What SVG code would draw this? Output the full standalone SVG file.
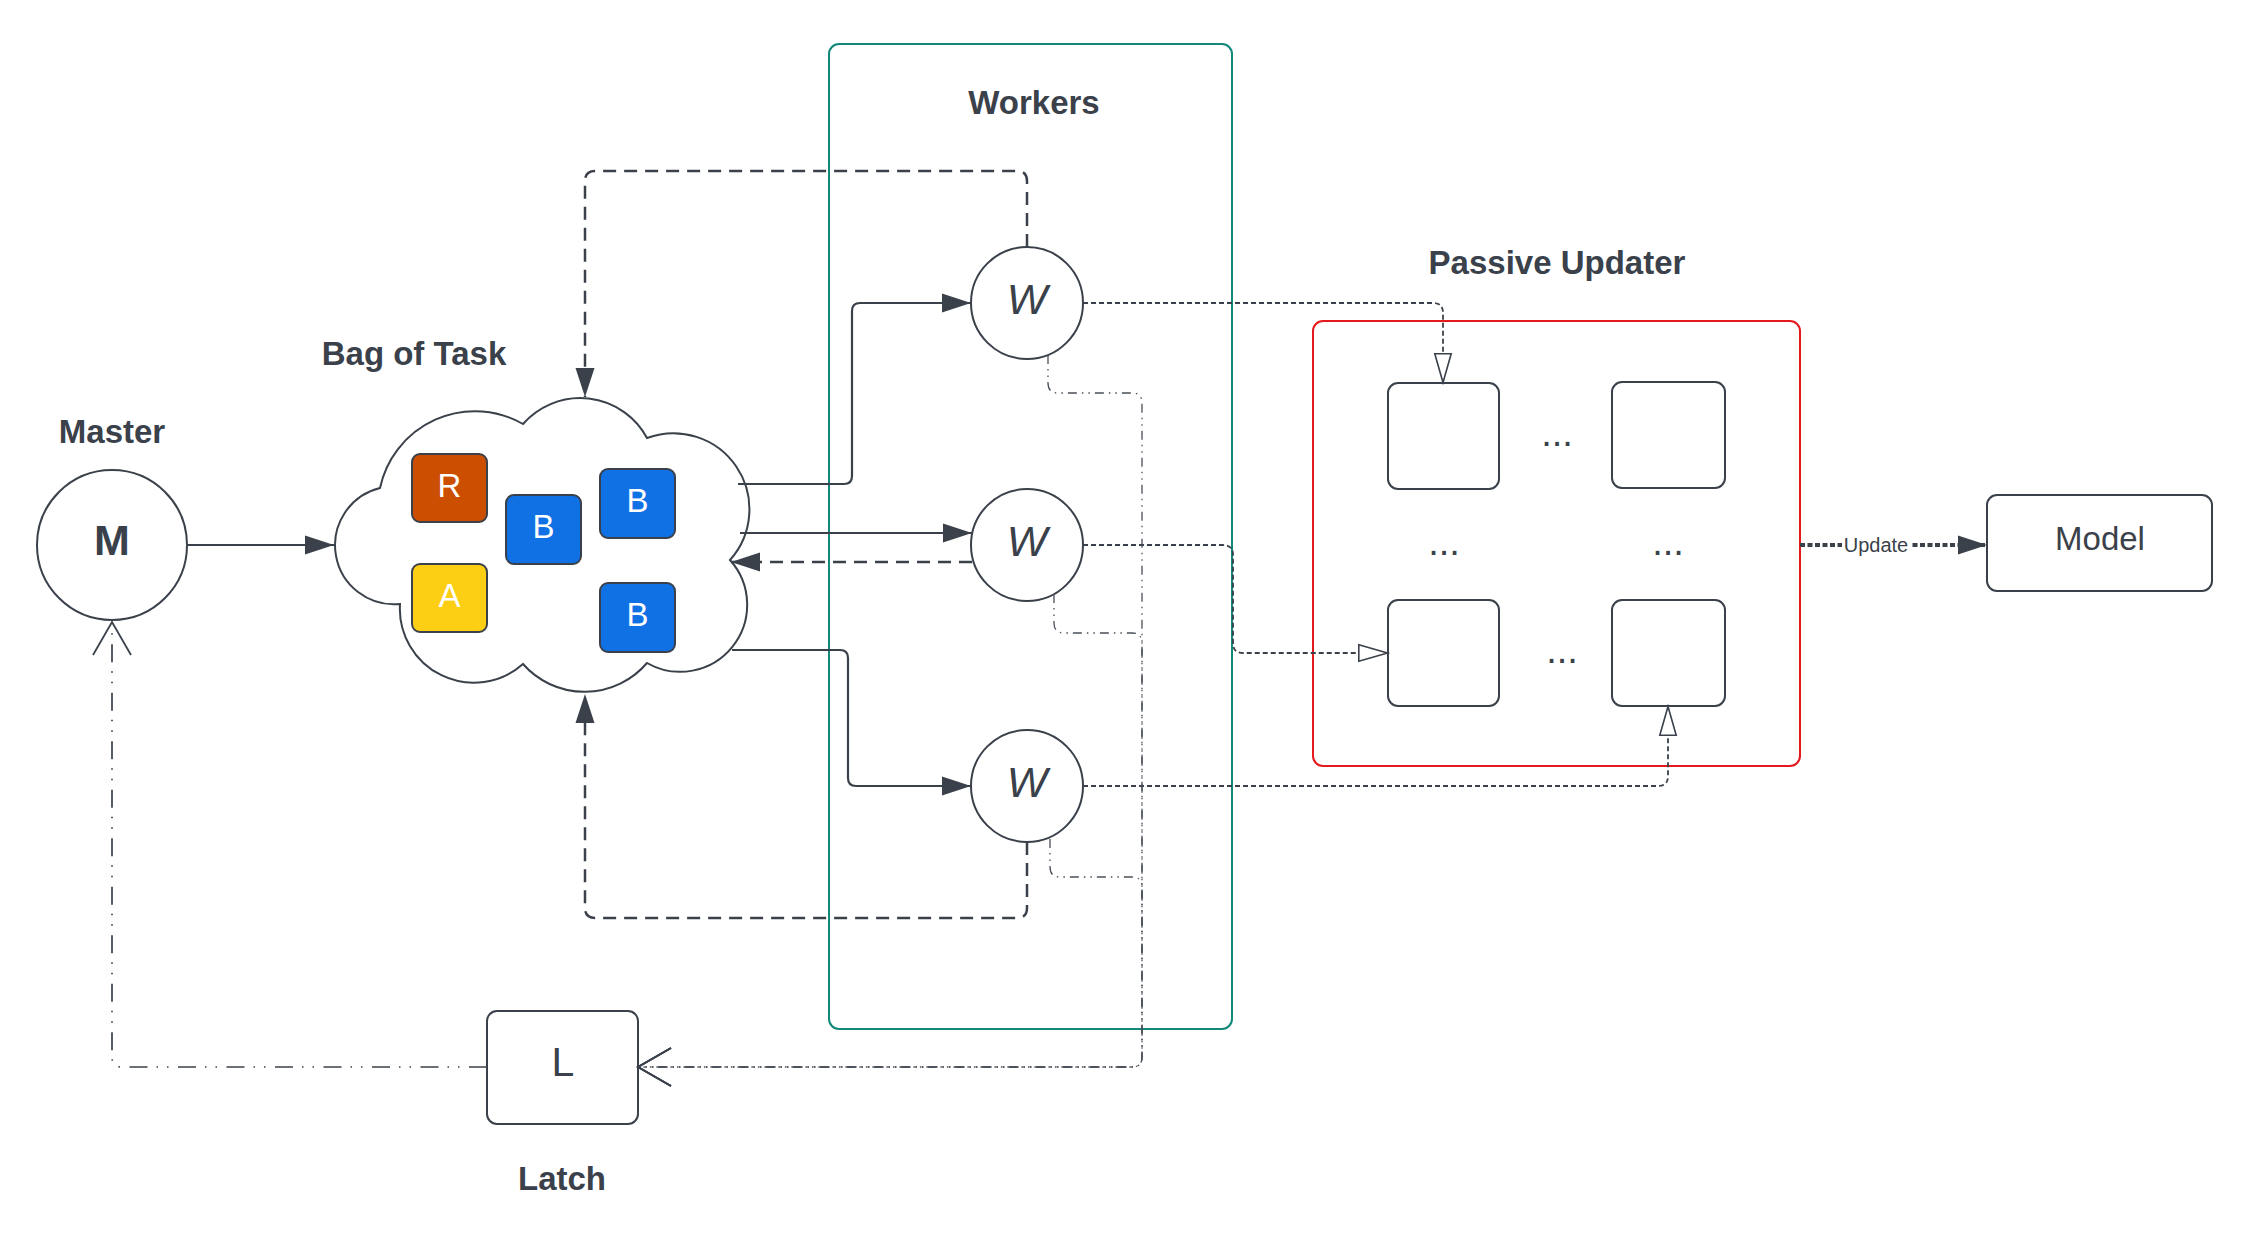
<svg xmlns="http://www.w3.org/2000/svg" width="2256" height="1234" viewBox="0 0 2256 1234">
<style>
.title{font-family:"Liberation Sans",Arial,sans-serif;font-weight:bold;font-size:33px;fill:#3A414A;text-anchor:middle}
.lbl{font-family:"Liberation Sans",Arial,sans-serif;fill:#3A414A;text-anchor:middle}
.task{font-family:"Liberation Sans",Arial,sans-serif;font-size:33px;fill:#FFFFFF;text-anchor:middle}
.shape{fill:#FFFFFF;stroke:#3A414A;stroke-width:2}
.tbox{stroke:#3A414A;stroke-width:2}
.solid{fill:none;stroke:#3A414A;stroke-width:2.2}
.dashed{fill:none;stroke:#3A414A;stroke-width:2.5;stroke-dasharray:13 8}
.dotted{fill:none;stroke:#3A414A;stroke-width:1.8;stroke-dasharray:5 3}
.thin{fill:none;stroke:#4A5059;stroke-width:1.3;stroke-dasharray:9 5 1.5 5 1.5 5}
.dd{fill:none;stroke:#3A414A;stroke-width:1.7;stroke-dasharray:18 9.5 1.5 9 1.5 9}
</style>
<defs>
<marker id="fill" viewBox="0 0 29 19" refX="29" refY="9.5" markerWidth="29" markerHeight="19" markerUnits="userSpaceOnUse" orient="auto" style="overflow:visible">
<path d="M0,0 L29,9.5 L0,19 Z" fill="#3A414A"/>
</marker>
<marker id="hollow" viewBox="0 0 30 18" refX="30" refY="9" markerWidth="30" markerHeight="18" markerUnits="userSpaceOnUse" orient="auto" style="overflow:visible">
<path d="M0.8,0.8 L29.5,9 L0.8,17.2 Z" fill="#FFFFFF" stroke="#3A414A" stroke-width="1.6"/>
</marker>
<marker id="open" viewBox="0 0 34 40" refX="33" refY="20" markerWidth="34" markerHeight="40" markerUnits="userSpaceOnUse" orient="auto" style="overflow:visible">
<path d="M0,1 L33,20 L0,39" fill="none" stroke="#3A414A" stroke-width="1.8"/>
</marker>
</defs>
<rect width="2256" height="1234" fill="#FFFFFF"/>

<g id="workers">
<rect x="829" y="44" width="403" height="985" rx="10" fill="none" stroke="#12877A" stroke-width="2"/>
<text class="title" x="1034" y="114">Workers</text>
</g>

<g id="passive-updater">
<rect x="1313" y="321" width="487" height="445" rx="10" fill="none" stroke="#E41A1C" stroke-width="2"/>
<text class="title" x="1557" y="274">Passive Updater</text>
<rect class="shape" x="1388" y="383" width="111" height="106" rx="10"/>
<rect class="shape" x="1612" y="382" width="113" height="106" rx="10"/>
<rect class="shape" x="1388" y="600" width="111" height="106" rx="10"/>
<rect class="shape" x="1612" y="600" width="113" height="106" rx="10"/>
<text class="lbl" x="1557" y="446" font-size="38">...</text>
<text class="lbl" x="1444" y="555" font-size="38">...</text>
<text class="lbl" x="1668" y="555" font-size="38">...</text>
<text class="lbl" x="1562" y="663" font-size="38">...</text>
</g>

<g id="master">
<text class="title" x="112" y="443">Master</text>
<circle class="shape" cx="112" cy="545" r="75"/>
<text class="lbl" x="112" y="555" font-size="43" font-weight="bold">M</text>
</g>

<g id="bag-of-task">
<text class="title" x="414" y="365">Bag of Task</text>
<path class="shape" d="M400,604 A59,59 0 0 1 380,488 A97,97 0 0 1 523,424 A76,76 0 0 1 647,438 A76,76 0 0 1 730,560 A67,67 0 0 1 647,663 A82,82 0 0 1 523,664 A74,74 0 0 1 400,604 Z"/>
<rect class="tbox" x="412" y="454" width="75" height="68" rx="8" fill="#CC4E00"/>
<text class="task" x="449.5" y="497">R</text>
<rect class="tbox" x="506" y="495" width="75" height="69" rx="8" fill="#1071E5"/>
<text class="task" x="543.5" y="538">B</text>
<rect class="tbox" x="600" y="469" width="75" height="69" rx="8" fill="#1071E5"/>
<text class="task" x="637.5" y="512">B</text>
<rect class="tbox" x="412" y="564" width="75" height="68" rx="8" fill="#FCCE14"/>
<text class="task" x="449.5" y="607">A</text>
<rect class="tbox" x="600" y="583" width="75" height="69" rx="8" fill="#1071E5"/>
<text class="task" x="637.5" y="626">B</text>
</g>

<g id="worker-1">
<circle class="shape" cx="1027" cy="303" r="56"/>
<text class="lbl" x="1027" y="314" font-size="43" font-style="italic">W</text>
</g>
<g id="worker-2">
<circle class="shape" cx="1027" cy="545" r="56"/>
<text class="lbl" x="1027" y="556" font-size="43" font-style="italic">W</text>
</g>
<g id="worker-3">
<circle class="shape" cx="1027" cy="786" r="56"/>
<text class="lbl" x="1027" y="797" font-size="43" font-style="italic">W</text>
</g>

<g id="latch">
<rect class="shape" x="487" y="1011" width="151" height="113" rx="10"/>
<text class="lbl" x="563" y="1076" font-size="41">L</text>
<text class="title" x="562" y="1190">Latch</text>
</g>

<g id="model">
<rect class="shape" x="1987" y="495" width="225" height="96" rx="10"/>
<text class="lbl" x="2100" y="550" font-size="33">Model</text>
</g>

<g id="connectors">
<path class="solid" d="M187,545 H334" marker-end="url(#fill)"/>
<path class="solid" d="M738,484 H844 Q852,484 852,476 V311 Q852,303 860,303 H971" marker-end="url(#fill)"/>
<path class="solid" stroke-width="1.4" d="M740,533 H972" marker-end="url(#fill)"/>
<path class="solid" d="M732,650 H840 Q848,650 848,658 V778 Q848,786 856,786 H971" marker-end="url(#fill)"/>
<path class="dashed" d="M1027,247 V181 Q1027,171 1017,171 H595 Q585,171 585,181 V397" marker-end="url(#fill)"/>
<path class="dashed" d="M972,562 H731" marker-end="url(#fill)"/>
<path class="dashed" d="M1027,842 V908 Q1027,918 1017,918 H595 Q585,918 585,908 V694" marker-end="url(#fill)"/>
<path class="dotted" d="M1083,303 H1433 Q1443,303 1443,313 V383" marker-end="url(#hollow)"/>
<path class="dotted" d="M1083,545 H1223 Q1233,545 1233,555 V643 Q1233,653 1243,653 H1388" marker-end="url(#hollow)"/>
<path class="dotted" d="M1083,786 H1658 Q1668,786 1668,776 V706" marker-end="url(#hollow)"/>
<path class="thin" d="M1048,355 V383 Q1048,393 1058,393 H1132 Q1142,393 1142,403 V1057 Q1142,1067 1132,1067 H638" marker-end="url(#open)"/>
<path class="thin" d="M1054,594 V623 Q1054,633 1064,633 H1132 Q1142,633 1142,643 V1057 Q1142,1067 1132,1067 H638" marker-end="url(#open)"/>
<path class="thin" d="M1050,839 V867 Q1050,877 1060,877 H1132 Q1142,877 1142,887 V1057 Q1142,1067 1132,1067 H638" marker-end="url(#open)"/>
<path class="dd" d="M487,1067 H122 Q112,1067 112,1057 V622" marker-end="url(#open)"/>
<path fill="none" stroke="#3A414A" stroke-width="4" stroke-dasharray="5 2.5" d="M1800,545 H1987" marker-end="url(#fill)"/>
<rect x="1842" y="532" width="68" height="24" fill="#FFFFFF"/>
<text class="lbl" x="1876" y="552" font-size="20">Update</text>
</g>
</svg>
